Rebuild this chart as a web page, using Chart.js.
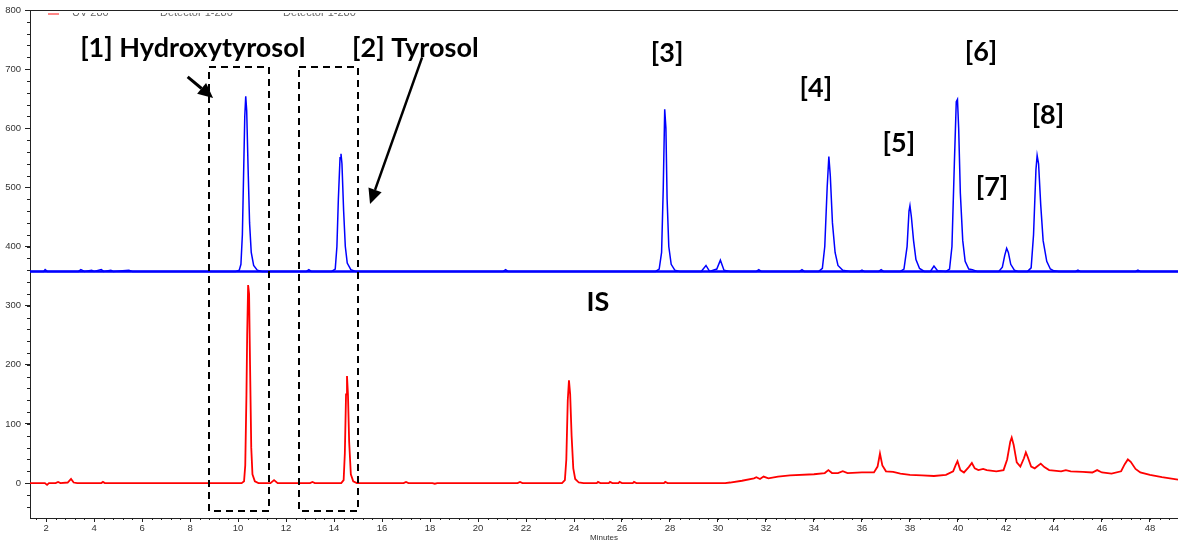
<!DOCTYPE html>
<html>
<head>
<meta charset="utf-8">
<script src="https://cdn.jsdelivr.net/npm/chart.js@4.4.1/dist/chart.umd.min.js"></script>
<style>
  html, body { margin: 0; padding: 0; background: #fff; }
  #wrap { width: 1178px; height: 543px; position: relative; }
</style>
</head>
<body>
<div id="wrap"><canvas id="chrom"></canvas></div>
<script>
(function() {
  'use strict';

  // [minutes, signal]; UV trace sits on a ~358 offset
  var blueTrace = [
    [1.33, 358], [1.9, 358], [1.96, 361], [2.05, 358], [3.35, 358], [3.45, 361], [3.6, 358],
    [3.9, 360], [4.0, 358], [4.3, 361], [4.4, 358], [4.7, 360], [4.8, 358], [5.45, 360], [5.6, 358],
    [9.9, 358], [10.05, 360], [10.12, 370], [10.18, 420], [10.23, 520], [10.28, 620], [10.32, 654],
    [10.36, 630], [10.42, 530], [10.48, 440], [10.55, 390], [10.65, 368], [10.8, 360], [11.0, 358],
    [12.85, 358], [12.95, 361], [13.05, 358],
    [13.9, 358], [14.05, 362], [14.12, 400], [14.18, 480], [14.25, 550], [14.29, 557], [14.33, 540],
    [14.4, 460], [14.47, 400], [14.55, 372], [14.7, 361], [14.9, 358],
    [21.05, 358], [21.15, 361], [21.25, 358],
    [27.4, 358], [27.55, 362], [27.65, 390], [27.72, 500], [27.78, 632], [27.83, 600], [27.88, 480],
    [27.95, 400], [28.05, 370], [28.2, 360], [28.4, 358],
    [29.3, 358], [29.5, 368], [29.65, 358], [29.95, 362], [30.1, 377], [30.25, 360], [30.5, 358],
    [31.6, 358], [31.7, 361], [31.8, 358], [33.4, 358], [33.5, 361], [33.6, 358],
    [34.2, 358], [34.35, 363], [34.45, 400], [34.55, 500], [34.62, 552], [34.68, 520], [34.77, 440],
    [34.88, 390], [35.0, 368], [35.2, 360], [35.5, 358],
    [35.9, 358], [36.0, 360], [36.1, 358], [36.7, 358], [36.8, 361], [36.9, 358],
    [37.6, 358], [37.75, 362], [37.88, 400], [37.96, 460], [38.0, 469], [38.06, 450], [38.15, 410],
    [38.25, 378], [38.4, 363], [38.6, 358],
    [38.85, 358], [39.0, 367], [39.15, 359],
    [39.5, 358], [39.65, 362], [39.75, 400], [39.85, 540], [39.93, 645], [39.98, 649], [40.03, 600],
    [40.1, 490], [40.2, 410], [40.3, 375], [40.45, 362], [40.6, 361], [40.8, 358],
    [41.7, 358], [41.85, 365], [41.95, 385], [42.03, 397], [42.1, 390], [42.2, 370], [42.35, 360], [42.5, 358],
    [42.9, 358], [43.05, 364], [43.15, 420], [43.25, 530], [43.3, 554], [43.36, 540], [43.45, 470],
    [43.55, 410], [43.7, 375], [43.85, 362], [44.0, 359], [44.2, 358],
    [44.9, 358], [45.0, 360], [45.1, 358], [47.4, 358], [47.5, 360], [47.6, 358], [49.17, 358]
  ];

  var blueBaseline = [[1.33, 358], [49.17, 358]];

  var redTrace = [
    [1.33, 0], [1.95, 0], [2.04, -3], [2.12, 0], [2.4, 0], [2.5, 2], [2.6, 0], [2.9, 1], [3.04, 7],
    [3.15, 1], [3.3, 0], [4.3, 0], [4.37, 2], [4.45, 0],
    [10.15, 0], [10.25, 3], [10.3, 30], [10.35, 150], [10.38, 250], [10.42, 335], [10.46, 320],
    [10.5, 200], [10.55, 60], [10.6, 15], [10.7, 3], [10.85, 0],
    [11.35, 0], [11.5, 5], [11.65, 0], [13.0, 0], [13.1, 2], [13.2, 0],
    [14.3, 0], [14.4, 5], [14.45, 50], [14.5, 150], [14.54, 181], [14.58, 150], [14.63, 70],
    [14.7, 15], [14.8, 3], [14.95, 0],
    [16.9, 0], [17.0, 2], [17.1, 0], [18.1, 0], [18.2, -1], [18.3, 0], [21.65, 0], [21.75, 2], [21.85, 0],
    [23.5, 0], [23.62, 5], [23.68, 40], [23.74, 140], [23.79, 174], [23.84, 150], [23.9, 80],
    [23.97, 25], [24.05, 7], [24.2, 1], [24.4, 0],
    [24.95, 0], [25.0, 2], [25.1, 0], [25.45, 0], [25.5, 2], [25.6, 0], [25.85, 0], [25.9, 2], [26.0, 0],
    [26.45, 0], [26.5, 2], [26.6, 0], [27.75, 0], [27.8, 2], [27.9, 0],
    [30.3, 0], [30.5, 1], [31.0, 4], [31.5, 8], [31.6, 10], [31.75, 7], [31.9, 11], [32.1, 8],
    [32.5, 11], [33.0, 13], [34.0, 15], [34.45, 17], [34.6, 22], [34.75, 17], [35.0, 17], [35.2, 20],
    [35.4, 17], [36.0, 18], [36.5, 18], [36.65, 28], [36.75, 50], [36.85, 30], [37.0, 20], [37.3, 19],
    [37.6, 16], [38.0, 14], [38.5, 13], [39.0, 12], [39.5, 14], [39.8, 20], [39.9, 30], [39.98, 37],
    [40.1, 22], [40.25, 18], [40.45, 27], [40.58, 34], [40.7, 25], [40.85, 22], [41.05, 24], [41.2, 22],
    [41.6, 20], [41.9, 22], [42.05, 40], [42.18, 70], [42.24, 77], [42.32, 65], [42.45, 35], [42.6, 28],
    [42.75, 42], [42.83, 52], [42.9, 45], [43.05, 28], [43.2, 25], [43.45, 33], [43.6, 27], [43.8, 22],
    [44.3, 20], [44.5, 22], [44.7, 20], [45.2, 19], [45.6, 18], [45.8, 22], [46.0, 18], [46.4, 16],
    [46.8, 20], [46.95, 32], [47.08, 40], [47.2, 36], [47.4, 24], [47.6, 18], [48.0, 14], [48.5, 10],
    [49.17, 6]
  ];

  var xTickValues = [2, 4, 6, 8, 10, 12, 14, 16, 18, 20, 22, 24, 26, 28, 30, 32, 34, 36, 38, 40, 42, 44, 46, 48];
  var yTickValues = [0, 100, 200, 300, 400, 500, 600, 700, 800];
  var legendTexts = ['UV 280', 'Detector 1-280', 'Detector 1-280'];

  // annotation anchors, in minutes / signal units
  var peakLabels = [
    { text: '[1] Hydroxytyrosol', x: 3.42, y: 735, align: 'left' },
    { text: '[2] Tyrosol', x: 14.75, y: 735, align: 'left' },
    { text: '[3]', x: 27.88, y: 727, align: 'center' },
    { text: '[4]', x: 34.08, y: 668, align: 'center' },
    { text: '[5]', x: 37.54, y: 575, align: 'center' },
    { text: '[6]', x: 40.96, y: 729, align: 'center' },
    { text: '[7]', x: 41.42, y: 501, align: 'center' },
    { text: '[8]', x: 43.75, y: 622, align: 'center' },
    { text: 'IS', x: 25.0, y: 306, align: 'center' }
  ];
  var boxes = [
    { x0: 8.79, x1: 11.29, y0: -47, y1: 704 },
    { x0: 12.54, x1: 15.0, y0: -47, y1: 704 }
  ];
  var arrows = [
    { x0: 7.9, y0: 687, x1: 8.96, y1: 651, width: 3 },
    { x0: 17.67, y0: 720, x1: 15.5, y1: 472, width: 2.5 }
  ];

  function toPoints(pairs) {
    return pairs.map(function(p) { return { x: p[0], y: p[1] }; });
  }

  function drawArrow(ctx, x0, y0, x1, y1, w) {
    var ang = Math.atan2(y1 - y0, x1 - x0);
    var len = 15, half = 7;
    var bx = x1 - len * Math.cos(ang), by = y1 - len * Math.sin(ang);
    ctx.strokeStyle = '#000';
    ctx.fillStyle = '#000';
    ctx.lineWidth = w;
    ctx.setLineDash([]);
    ctx.beginPath();
    ctx.moveTo(x0, y0);
    ctx.lineTo(bx, by);
    ctx.stroke();
    ctx.beginPath();
    ctx.moveTo(x1, y1);
    ctx.lineTo(bx + half * Math.sin(ang), by - half * Math.cos(ang));
    ctx.lineTo(bx - half * Math.sin(ang), by + half * Math.cos(ang));
    ctx.closePath();
    ctx.fill();
  }

  var decorations = {
    id: 'decorations',
    afterDatasetsDraw: function(chart) {
      var ctx = chart.ctx, xs = chart.scales.x, ys = chart.scales.y;
      ctx.save();

      ctx.strokeStyle = '#000';
      ctx.lineWidth = 2;
      ctx.setLineDash([7, 5]);
      boxes.forEach(function(b) {
        var l = Math.round(xs.getPixelForValue(b.x0)), r = Math.round(xs.getPixelForValue(b.x1));
        var t = Math.round(ys.getPixelForValue(b.y1)), btm = Math.round(ys.getPixelForValue(b.y0));
        ctx.strokeRect(l, t, r - l, btm - t);
      });

      arrows.forEach(function(a) {
        drawArrow(ctx, xs.getPixelForValue(a.x0), ys.getPixelForValue(a.y0),
          xs.getPixelForValue(a.x1), ys.getPixelForValue(a.y1), a.width);
      });

      ctx.fillStyle = '#000';
      ctx.font = 'bold 27px Lato';
      ctx.textBaseline = 'middle';
      peakLabels.forEach(function(p) {
        ctx.textAlign = p.align;
        ctx.fillText(p.text, xs.getPixelForValue(p.x), ys.getPixelForValue(p.y));
      });
      ctx.restore();
    },
    afterDraw: function(chart) {
      var ctx = chart.ctx, xs = chart.scales.x, ys = chart.scales.y, area = chart.chartArea;
      var v;
      ctx.save();
      ctx.strokeStyle = '#222';
      ctx.lineWidth = 1;

      // minor ticks
      ctx.beginPath();
      for (v = 1.6; v < xs.max; v += 0.4) {
        var px = Math.round(xs.getPixelForValue(v)) + 0.5;
        ctx.moveTo(px, area.bottom);
        ctx.lineTo(px, area.bottom + 2);
      }
      for (v = -40; v < 800; v += 20) {
        var py = Math.round(ys.getPixelForValue(v)) + 0.5;
        ctx.moveTo(area.left, py);
        ctx.lineTo(area.left - 3, py);
      }
      ctx.stroke();

      // top frame line
      ctx.beginPath();
      ctx.moveTo(area.left, area.top + 0.5);
      ctx.lineTo(area.right, area.top + 0.5);
      ctx.stroke();

      // clipped legend strip
      ctx.strokeStyle = '#ff6060';
      ctx.lineWidth = 1.5;
      ctx.beginPath();
      ctx.moveTo(48, 14);
      ctx.lineTo(59, 14);
      ctx.stroke();
      ctx.save();
      ctx.beginPath();
      ctx.rect(60, 13, 400, 10);
      ctx.clip();
      ctx.fillStyle = '#666';
      ctx.font = '11px "Liberation Sans"';
      ctx.textBaseline = 'alphabetic';
      ctx.textAlign = 'left';
      ctx.fillText(legendTexts[0], 72, 16);
      ctx.fillText(legendTexts[1], 160, 16);
      ctx.fillText(legendTexts[2], 283, 16);
      ctx.restore();

      ctx.fillStyle = '#333';
      ctx.font = '8px "Liberation Sans"';
      ctx.textAlign = 'center';
      ctx.textBaseline = 'middle';
      ctx.fillText('Minutes', xs.getPixelForValue(25.25), 538);
      ctx.restore();
    }
  };

  var tickFont = { family: 'Liberation Sans', size: 9.5 };

  new Chart(document.getElementById('chrom'), {
    type: 'line',
    data: {
      datasets: [
        { data: toPoints(redTrace), borderColor: '#ff0000', borderWidth: 1.8 },
        { data: toPoints(blueBaseline), borderColor: '#0000ff', borderWidth: 2.5 },
        { data: toPoints(blueTrace), borderColor: '#0000ff', borderWidth: 1.5 }
      ]
    },
    options: {
      responsive: true,
      maintainAspectRatio: false,
      animation: false,
      layout: { padding: { top: 10, left: 0, right: 0, bottom: 0 } },
      elements: { point: { radius: 0 }, line: { tension: 0 } },
      plugins: { legend: { display: false }, tooltip: { enabled: false } },
      scales: {
        x: {
          type: 'linear',
          min: 1.33,
          max: 49.17,
          afterBuildTicks: function(scale) {
            scale.ticks = xTickValues.map(function(v) { return { value: v }; });
          },
          afterFit: function(scale) { scale.height = 25; },
          grid: { drawOnChartArea: false, tickLength: 4, tickColor: '#222' },
          border: { color: '#222', width: 1 },
          ticks: { font: tickFont, color: '#333', padding: 1, maxRotation: 0, autoSkip: false }
        },
        y: {
          min: -59,
          max: 800,
          afterBuildTicks: function(scale) {
            scale.ticks = yTickValues.map(function(v) { return { value: v }; });
          },
          afterFit: function(scale) { scale.width = 30; },
          grid: { drawOnChartArea: false, tickLength: 5, tickColor: '#222' },
          border: { color: '#222', width: 1 },
          ticks: { font: tickFont, color: '#333', padding: 4 }
        }
      }
    },
    plugins: [decorations]
  });
})();
</script>
</body>
</html>
